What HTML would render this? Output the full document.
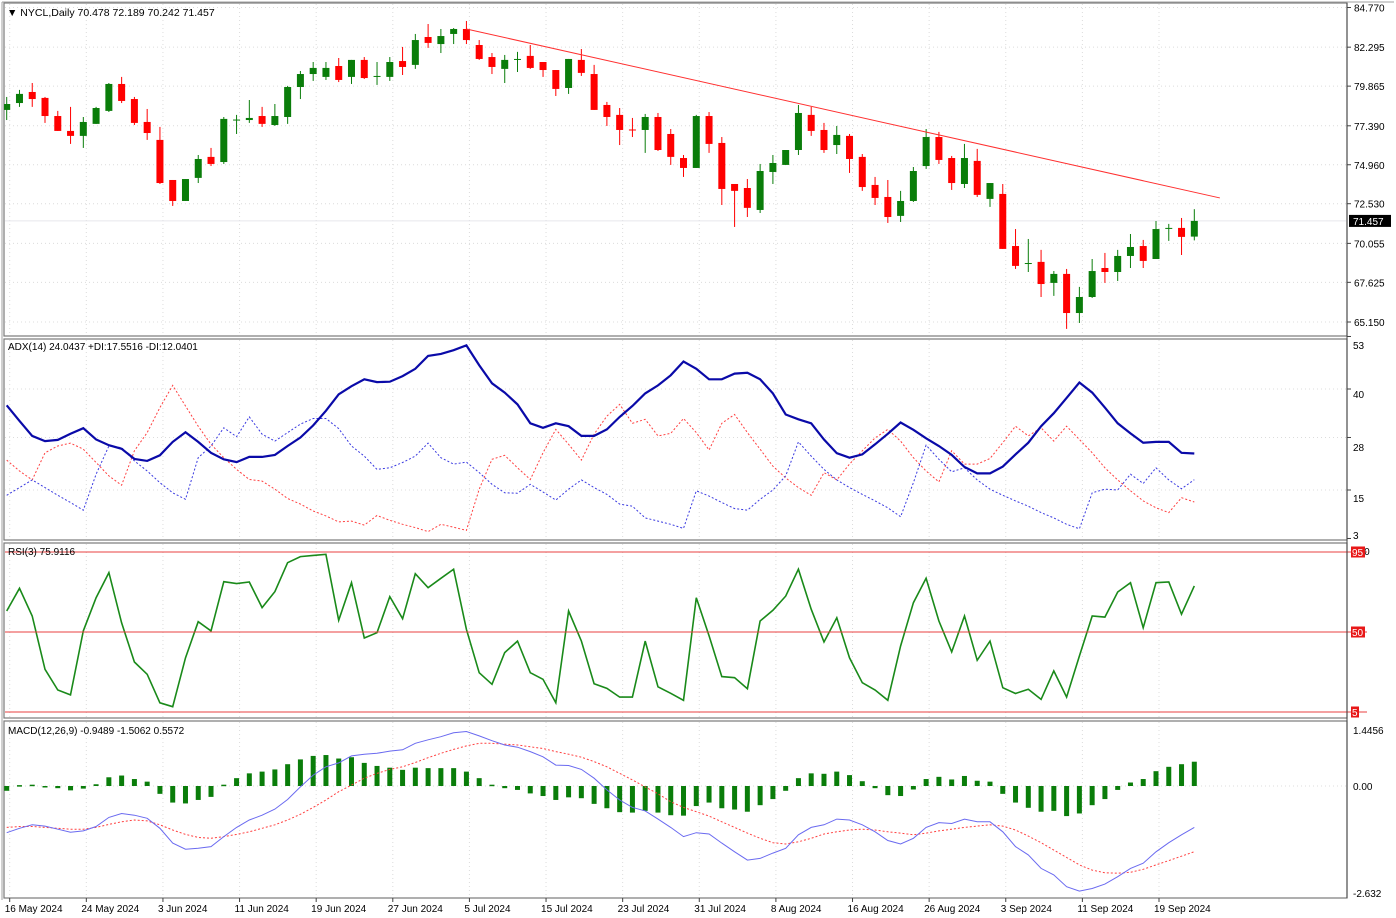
<!DOCTYPE html>
<html><head><meta charset="utf-8"><title>NYCL Daily</title>
<style>
html,body{margin:0;padding:0;background:#fff;}
svg{display:block;font-family:"Liberation Sans",sans-serif;}
</style></head>
<body>
<svg id="chart" width="1396" height="918" viewBox="0 0 1396 918" xmlns="http://www.w3.org/2000/svg"></svg>
<script>
// ---------- data ----------
const dateLabels = ["16 May 2024","24 May 2024","3 Jun 2024","11 Jun 2024","19 Jun 2024","27 Jun 2024","5 Jul 2024","15 Jul 2024","23 Jul 2024","31 Jul 2024","8 Aug 2024","16 Aug 2024","26 Aug 2024","3 Sep 2024","11 Sep 2024","19 Sep 2024"];
const priceTicks = [84.770,82.295,79.865,77.390,74.960,72.530,70.055,67.625,65.150];
const adxTicks = [53,40,28,15,3];
const rsiLevels = [95,50,5];
const macdTicks = [1.4456,0.00,-2.632];
const opens = [78.38,78.81,79.50,79.13,78.00,77.07,76.76,77.51,78.32,80.00,79.06,77.63,76.51,74.01,72.70,74.14,75.45,75.13,77.75,77.75,78.00,77.44,77.94,79.81,80.62,80.44,81.12,80.44,81.50,80.44,80.44,81.43,81.19,82.93,82.49,83.12,83.43,82.43,81.68,80.94,81.52,81.75,81.37,80.87,79.75,81.50,80.62,78.69,78.07,77.16,77.13,77.94,76.88,75.38,74.76,78.00,76.32,73.76,73.51,72.14,74.51,74.95,75.88,78.07,77.13,76.19,76.76,75.45,73.70,72.95,71.77,72.70,74.88,76.69,75.38,73.76,75.20,72.83,73.14,69.89,68.80,68.90,67.59,68.15,65.71,66.71,68.52,68.27,69.27,69.89,69.08,70.99,71.02,70.478];
const highs = [79.19,79.63,80.06,79.19,78.32,78.57,77.94,78.57,80.06,80.44,79.19,78.44,77.32,74.01,74.07,75.57,76.01,77.94,78.07,79.00,78.57,78.75,79.88,80.81,81.37,81.37,81.62,81.50,81.68,81.37,81.68,82.31,83.12,83.74,83.43,83.49,83.93,82.74,81.93,81.81,82.00,82.43,81.37,80.87,81.56,82.18,81.19,78.88,78.50,77.88,78.13,78.19,77.19,75.57,78.07,78.25,76.69,73.76,74.07,75.01,75.57,75.88,78.69,78.57,77.57,77.38,76.88,75.63,74.20,74.01,73.33,74.82,77.19,77.01,75.51,76.26,75.95,73.82,73.76,70.95,70.33,69.65,68.33,68.46,67.34,69.08,69.46,69.65,70.64,70.27,71.45,71.27,71.64,72.189];
const lows = [77.75,78.57,78.57,77.57,77.07,76.26,76.01,77.51,78.25,78.81,77.44,76.51,73.76,72.39,72.70,73.82,74.88,75.01,76.88,77.57,77.32,77.38,77.51,79.06,80.19,80.25,80.12,80.00,80.31,79.94,80.19,80.56,80.94,82.25,81.93,82.49,82.49,81.50,80.62,80.06,80.75,80.94,80.44,79.25,79.38,80.50,78.38,77.38,76.19,76.69,75.70,75.82,74.95,74.20,74.76,75.70,72.45,71.08,71.70,71.95,73.76,74.95,75.57,76.76,75.70,75.63,74.45,73.33,72.45,71.33,71.39,72.64,74.70,75.01,73.39,73.51,72.95,72.33,69.71,68.46,68.27,66.71,66.78,64.72,65.09,66.65,67.59,67.71,68.52,68.52,69.08,70.21,69.33,70.242];
const closes = [78.75,79.38,79.06,78.00,77.07,76.76,77.63,78.50,80.00,78.94,77.57,76.94,73.82,72.70,74.07,75.32,75.01,77.82,77.78,77.88,77.51,78.00,79.81,80.62,81.00,81.00,80.25,81.50,80.37,80.50,81.37,81.06,82.74,82.56,82.99,83.43,82.74,81.56,81.06,81.50,81.56,81.00,80.87,79.69,81.56,80.69,78.38,77.94,77.13,77.13,77.94,75.88,75.45,74.76,78.00,76.26,73.45,73.33,72.27,74.57,75.07,75.88,78.19,77.07,75.88,76.82,75.32,73.57,72.89,71.70,72.70,74.57,76.69,75.26,73.82,75.38,73.08,73.82,69.71,68.65,68.83,67.52,68.15,65.71,66.71,68.33,68.27,69.27,69.83,68.96,70.95,71.02,70.46,71.457];
const trendIdx = [36,95];
const trendPrice = [83.43,72.89];
const adx = [35.96,32.1,28.4,27.1,27.4,28.9,30.3,27.5,26.1,25.2,22.7,22.2,23.6,26.9,29.3,26.9,24.2,22.6,21.9,23.2,23.2,23.7,25.9,28.0,31.0,34.6,38.7,40.7,42.4,41.7,41.8,43.2,45.0,48.2,48.7,49.6,50.8,45.9,41.4,39.1,36.2,31.5,30.4,31.5,30.8,28.4,28.4,30.0,33.1,35.8,38.9,40.9,43.4,46.8,45.0,42.4,42.4,43.8,44.0,42.4,38.9,33.7,32.5,31.5,27.5,24.1,23.0,23.8,26.3,28.9,31.7,29.9,27.8,25.9,23.7,20.7,19.1,19.1,20.8,23.8,26.7,30.8,34.0,37.8,41.6,39.1,35.4,31.5,29.0,26.7,26.9,26.9,24.2,24.04];
const minusDI = [22.4,19.7,17.5,24.2,25.9,26.6,25.1,21.8,18.5,16.2,24.7,29.2,35.4,40.9,35.8,30.8,26.3,23.0,20.1,17.6,17.2,15.2,12.9,11.5,9.8,8.6,7.1,7.3,6.3,8.7,7.5,6.5,5.7,4.7,6.5,5.8,5.0,15.2,22.6,23.6,20.5,17.6,24.2,30.0,26.3,22.4,28.8,33.3,36.2,31.5,32.5,28.4,29.0,32.7,29.2,24.9,31.5,33.7,29.2,25.1,20.9,18.0,15.6,13.7,19.3,17.5,21.4,24.7,27.9,30.0,27.1,23.0,19.7,17.0,24.7,21.4,21.4,22.8,26.7,30.8,28.4,30.4,27.1,30.8,27.5,24.2,20.5,17.5,14.8,12.3,10.6,9.4,13.1,12.04];
const plusDI = [13.7,15.6,17.5,15.6,13.7,11.9,10.0,18.9,25.9,25.5,22.2,19.7,16.8,14.3,12.7,23.0,25.9,30.4,28.2,33.1,28.8,27.1,29.2,31.3,32.7,32.7,30.2,25.9,23.4,20.1,20.5,21.8,23.4,26.6,23.0,21.4,21.9,19.3,16.4,14.3,14.2,16.4,14.5,12.5,15.2,17.5,15.6,13.9,11.5,11.0,8.1,7.3,6.5,5.5,14.8,13.5,11.9,10.4,10.0,12.7,15.0,18.5,26.9,23.4,20.1,17.5,15.6,13.9,12.3,10.6,8.4,16.8,26.1,22.6,19.5,20.5,17.5,15.2,13.7,12.3,11.0,9.4,8.1,6.5,5.4,14.3,15.2,15.0,18.9,16.6,20.5,17.5,15.3,17.55];
const rsi = [61.8,74.6,59.0,29.0,17.4,14.6,50.6,69.3,83.4,55.2,33.1,26.2,10.2,8.0,35.5,55.8,50.6,78.3,77.2,78.1,63.7,72.7,89.0,92.4,93.1,93.7,56.6,77.7,46.6,49.6,69.9,57.5,82.8,74.9,80.2,85.3,51.5,27.1,20.6,38.4,44.9,27.1,23.4,10.2,61.8,44.9,20.9,18.3,13.4,13.4,44.9,19.2,15.5,11.6,69.3,47.8,24.9,24.3,18.1,56.2,62.2,70.2,85.3,62.8,44.4,58.0,35.5,21.5,17.4,11.6,42.1,66.5,80.2,56.2,38.8,59.0,34.1,44.9,18.7,15.4,17.8,12.1,28.1,13.4,36.5,59.0,58.4,72.5,77.7,52.4,77.7,78.1,60.0,75.91];
const macdHist = [-0.11,0.02,0.03,-0.02,-0.05,-0.10,-0.06,0.04,0.20,0.24,0.16,0.10,-0.18,-0.38,-0.40,-0.32,-0.25,0.03,0.18,0.29,0.33,0.38,0.50,0.61,0.69,0.71,0.63,0.66,0.53,0.46,0.42,0.37,0.42,0.41,0.41,0.41,0.33,0.18,0.03,-0.05,-0.09,-0.17,-0.23,-0.32,-0.26,-0.28,-0.41,-0.51,-0.60,-0.61,-0.57,-0.61,-0.67,-0.68,-0.46,-0.38,-0.51,-0.54,-0.59,-0.44,-0.30,-0.11,0.18,0.29,0.28,0.33,0.25,0.11,-0.05,-0.21,-0.23,-0.08,0.16,0.21,0.15,0.23,0.12,0.10,-0.18,-0.38,-0.50,-0.59,-0.57,-0.69,-0.63,-0.44,-0.30,-0.09,0.08,0.16,0.34,0.44,0.50,0.5572];
const macdMain = [-1.07,-0.97,-0.89,-0.92,-0.99,-1.06,-1.03,-0.93,-0.72,-0.63,-0.67,-0.74,-0.97,-1.31,-1.45,-1.43,-1.39,-1.16,-0.95,-0.78,-0.67,-0.53,-0.31,-0.02,0.25,0.44,0.53,0.69,0.73,0.75,0.80,0.83,0.98,1.06,1.13,1.22,1.25,1.15,1.04,0.94,0.89,0.79,0.67,0.48,0.47,0.38,0.18,-0.09,-0.32,-0.49,-0.57,-0.76,-0.95,-1.16,-1.07,-1.10,-1.31,-1.51,-1.70,-1.66,-1.54,-1.43,-1.12,-0.95,-0.89,-0.76,-0.78,-0.89,-1.05,-1.25,-1.33,-1.20,-0.95,-0.84,-0.86,-0.76,-0.82,-0.82,-1.05,-1.39,-1.58,-1.89,-2.04,-2.31,-2.41,-2.35,-2.25,-2.08,-1.89,-1.77,-1.51,-1.30,-1.12,-0.9489];
const macdSignal = [-0.95,-0.93,-0.93,-0.95,-0.97,-0.99,-0.99,-0.95,-0.88,-0.82,-0.78,-0.80,-0.89,-1.01,-1.11,-1.18,-1.20,-1.16,-1.11,-1.05,-0.97,-0.89,-0.78,-0.65,-0.49,-0.32,-0.13,0.02,0.18,0.29,0.38,0.44,0.54,0.65,0.75,0.84,0.92,0.98,0.98,0.96,0.94,0.90,0.86,0.79,0.73,0.66,0.56,0.44,0.29,0.14,-0.02,-0.18,-0.36,-0.49,-0.59,-0.69,-0.82,-0.95,-1.08,-1.20,-1.30,-1.33,-1.28,-1.20,-1.10,-1.05,-1.01,-0.99,-1.01,-1.05,-1.08,-1.12,-1.08,-1.03,-0.99,-0.95,-0.92,-0.89,-0.92,-1.01,-1.15,-1.30,-1.47,-1.64,-1.81,-1.93,-1.99,-2.00,-1.98,-1.91,-1.81,-1.71,-1.61,-1.5062];

// ---------- scales ----------
const AXIS_X = 1347;
const xOf = i => 6.7 + 12.77 * i;
const yPrice = p => 7.5 + (84.77 - p) * 16.03;
const yAdx = v => 389 + (40 - v) * 4.04;
const yRsi = v => 632 - (v - 50) * 1.778;
const yMacd = v => 786 - v * 43.6;

const NS = "http://www.w3.org/2000/svg";
const svg = document.getElementById("chart");
function el(tag, attrs, parent) {
  const e = document.createElementNS(NS, tag);
  for (const k in attrs) e.setAttribute(k, attrs[k]);
  (parent || svg).appendChild(e);
  return e;
}
function txt(s, x, y, attrs, parent) {
  const t = el("text", Object.assign({x: x, y: y, "font-size": 11, fill: "#000"}, attrs || {}), parent);
  t.textContent = s;
  return t;
}

// clip paths
const defs = el("defs", {});
[["clipMain",4,4,1343,332],["clipAdx",4,339,1343,201],["clipRsi",4,543,1343,175],["clipMacd",4,722,1343,176]].forEach(c => {
  const cp = el("clipPath", {id: c[0]}, defs);
  el("rect", {x: c[1], y: c[2], width: c[3], height: c[4]}, cp);
});

// panels
const panels = [["price-panel",3,336],["adx-panel",339,540],["rsi-panel",543,718],["macd-panel",721,898]];
panels.forEach(p => {
  const r = el("rect", {x: 4, y: p[1], width: AXIS_X - 4, height: p[2] - p[1], fill: "#fff", stroke: "#7a7a7a", "stroke-width": 1.2});
  
  
});
el("line", {x1: 2, y1: 2, x2: 1394, y2: 2, stroke: "#a0a0a0"});
el("line", {x1: 2, y1: 2, x2: 2, y2: 900, stroke: "#a0a0a0"});

// vertical grid
const gridG = el("g", {stroke: "#dcdcdc", "stroke-dasharray": "1,3", "stroke-width": 1});


dateLabels.forEach((d, k) => {
  const x = xOf(6 * k) + 3;
  panels.forEach(p => el("line", {x1: x, y1: p[1] + 1, x2: x, y2: p[2] - 1}, gridG));
});
priceTicks.forEach(v => el("line", {x1: 5, y1: yPrice(v), x2: AXIS_X, y2: yPrice(v)}, gridG));
[40, 28, 15].forEach(v => el("line", {x1: 5, y1: yAdx(v), x2: AXIS_X, y2: yAdx(v)}, gridG));
el("line", {x1: 5, y1: yMacd(0), x2: AXIS_X, y2: yMacd(0)}, gridG);

// ---------- price panel ----------
const mainG = el("g", {"clip-path": "url(#clipMain)"});


el("line", {x1: 5, y1: yPrice(closes[closes.length-1]), x2: AXIS_X, y2: yPrice(closes[closes.length-1]), stroke: "#e6e6ec", "stroke-width": 1}, mainG);
for (let i = 0; i < opens.length; i++) {
  const up = closes[i] >= opens[i];
  const col = up ? "#0a7d0a" : "#ff0000";
  const x = xOf(i);
  const g = el("g", {}, mainG);
  
  
  el("line", {x1: x, y1: yPrice(highs[i]), x2: x, y2: yPrice(lows[i]), stroke: col, "stroke-width": 1}, g);
  const top = yPrice(Math.max(opens[i], closes[i]));
  const bot = yPrice(Math.min(opens[i], closes[i]));
  el("rect", {x: x - 3.5, y: top, width: 7, height: Math.max(1, bot - top), fill: col}, g);
}
const tl = el("line", {x1: xOf(trendIdx[0]), y1: yPrice(trendPrice[0]), x2: xOf(trendIdx[1]), y2: yPrice(trendPrice[1]), stroke: "#ff3030", "stroke-width": 1}, mainG);



const hdr = txt("\u25BC NYCL,Daily  70.478 72.189 70.242 71.457", 7, 16, {"font-size": 10.5, "xml:space": "preserve"});



// ---------- ADX panel ----------
const adxG = el("g", {"clip-path": "url(#clipAdx)", fill: "none"});


function poly(arr, yf, attrs, parent, name) {
  const pts = arr.map((v, i) => xOf(i).toFixed(1) + "," + yf(v).toFixed(1)).join(" ");
  const p = el("polyline", Object.assign({points: pts, fill: "none"}, attrs), parent);
  
  
  return p;
}
poly(minusDI, yAdx, {stroke: "#ff4040", "stroke-width": 1, "stroke-dasharray": "2,2"}, adxG, "minus-di-line");
poly(plusDI, yAdx, {stroke: "#3a3ae0", "stroke-width": 1, "stroke-dasharray": "2,2"}, adxG, "plus-di-line");
poly(adx, yAdx, {stroke: "#0a0aa8", "stroke-width": 2.2}, adxG, "adx-line");
const adxT = txt("ADX(14) 24.0437 +DI:17.5516 -DI:12.0401", 8, 350, {"font-size": 10});



// ---------- RSI panel ----------
const rsiG = el("g", {"clip-path": "url(#clipRsi)"});


rsiLevels.forEach(v => {
  const l = el("line", {x1: 5, y1: yRsi(v), x2: AXIS_X + 20, y2: yRsi(v), stroke: "#e84040", "stroke-width": 1}, svg);
  
  
});
poly(rsi, yRsi, {stroke: "#1a8a1a", "stroke-width": 1.6}, rsiG, "rsi-line");
const rsiT = txt("RSI(3) 75.9116", 8, 555, {"font-size": 10});



// ---------- MACD panel ----------
const macdG = el("g", {"clip-path": "url(#clipMacd)"});


macdHist.forEach((v, i) => {
  const y0 = yMacd(0), y1 = yMacd(v);
  const r = el("rect", {x: xOf(i) - 2.5, y: Math.min(y0, y1), width: 5, height: Math.max(1.5, Math.abs(y1 - y0)), fill: "#0a7d0a"}, macdG);
  
  
});
poly(macdSignal, yMacd, {stroke: "#ff4040", "stroke-width": 1, "stroke-dasharray": "2,2"}, macdG, "macd-signal-line");
poly(macdMain, yMacd, {stroke: "#6a6af0", "stroke-width": 1}, macdG, "macd-main-line");
const macdT = txt("MACD(12,26,9) -0.9489 -1.5062 0.5572", 8, 734, {"font-size": 10});



// ---------- right axis ----------
el("line", {x1: AXIS_X, y1: 3, x2: AXIS_X, y2: 898, stroke: "#404040", "stroke-width": 1});
const axG = el("g", {});


priceTicks.forEach(v => {
  el("line", {x1: AXIS_X, y1: yPrice(v), x2: AXIS_X + 4, y2: yPrice(v), stroke: "#404040"}, axG);
  const t = txt(v.toFixed(3), 1354, yPrice(v) + 4, {"font-size": 10}, axG);
  
  
});
const pb = el("rect", {x: 1349, y: yPrice(closes[closes.length-1]) - 6, width: 42, height: 12, fill: "#000"});


txt(closes[closes.length-1].toFixed(3), 1353, yPrice(closes[closes.length-1]) + 4, {"font-size": 10, fill: "#fff"});

const adxLabelY = [349, 398, 451, 502, 539];
adxTicks.forEach((v, k) => {
  el("line", {x1: AXIS_X, y1: yAdx(v), x2: AXIS_X + 4, y2: yAdx(v), stroke: "#404040"});
  const t = txt(String(v), 1353, adxLabelY[k], {"font-size": 10});
  
  
});
txt("100", 1353, 555, {"font-size": 10});
rsiLevels.forEach(v => {
  const w = String(v).length * 6 + 2;
  const b = el("rect", {x: 1351, y: yRsi(v) - 5.5, width: w, height: 11, fill: "#e81818"});
  
  
  txt(String(v), 1352, yRsi(v) + 4, {"font-size": 10, fill: "#fff"});
});
const macdLabelY = [734, 790, 897];
macdTicks.forEach((v, k) => {
  const t = txt(k === 1 ? "0.00" : String(v), 1353, macdLabelY[k], {"font-size": 10});
  
  
});

// ---------- date axis ----------
dateLabels.forEach((d, k) => {
  const x = xOf(6 * k);
  el("line", {x1: x + 3, y1: 898, x2: x + 3, y2: 902, stroke: "#404040"});
  const t = txt(d, x - 2, 912, {"font-size": 10});
  
  
});
</script>
</body></html>
